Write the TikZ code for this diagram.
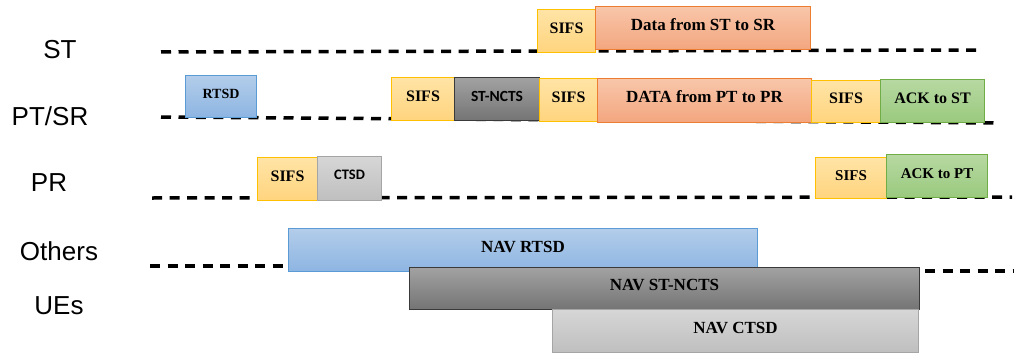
\documentclass[tikz,border=0pt]{standalone}
\usepackage{fontspec}
\setmainfont{Liberation Serif}
\newfontfamily\labfont{Liberation Sans}
\newfontfamily\calfont{Carlito}
\usetikzlibrary{shadings}
\definecolor{sifsT}{HTML}{FFE4A6}
\definecolor{sifsB}{HTML}{FFD47E}
\definecolor{sifsD}{HTML}{FFC000}
\definecolor{dataT}{HTML}{F8C6AA}
\definecolor{dataB}{HTML}{F3A67F}
\definecolor{dataD}{HTML}{ED7D31}
\definecolor{blueT}{HTML}{B3CDEA}
\definecolor{blueB}{HTML}{8DB5E2}
\definecolor{blueD}{HTML}{5B9BD5}
\definecolor{grayT}{HTML}{A2A2A2}
\definecolor{grayB}{HTML}{747474}
\definecolor{grayD}{HTML}{3A3A3A}
\definecolor{lgrayT}{HTML}{D6D6D6}
\definecolor{lgrayB}{HTML}{BFBFBF}
\definecolor{lgrayD}{HTML}{A5A5A5}
\definecolor{ackT}{HTML}{B7D8A2}
\definecolor{ackB}{HTML}{9ACA7E}
\definecolor{ackD}{HTML}{70AD47}
\tikzset{
  timeline/.style={line width=3.5pt, dash pattern=on 10pt off 7.5pt},
  rowlabel/.style={font=\labfont\fontsize{26}{30}\selectfont, inner sep=0pt},
  frame/.style={anchor=north west, inner sep=0pt, line width=1pt, text height=0.7em, text depth=0.25em, font=\bfseries\fontsize{16}{18}\selectfont},
  sifsbox/.style={frame, draw=sifsD, top color=sifsT, bottom color=sifsB},
  databox/.style={frame, draw=dataD, top color=dataT, bottom color=dataB, font=\bfseries\fontsize{17}{19}\selectfont},
  bluebox/.style={frame, draw=blueD, top color=blueT, bottom color=blueB},
  graybox/.style={frame, draw=grayD, top color=grayT, bottom color=grayB},
  lgraybox/.style={frame, draw=lgrayD, top color=lgrayT, bottom color=lgrayB},
  ackbox/.style={frame, draw=ackD, top color=ackT, bottom color=ackB},
}
\begin{document}
\begin{tikzpicture}[x=1pt,y=-1pt]
\useasboundingbox (0,0) rectangle (1014,353);
% row labels
\node[rowlabel] (lST) at (60,50) {ST};
\node[rowlabel] (lPT) at (50,116) {PT/SR};
\node[rowlabel] (lPR) at (49,183) {PR};
\node[rowlabel] (lOt) at (59,251) {Others};
\node[rowlabel] (lUE) at (59,306) {UEs};
% time lines
\coordinate (st1) at (161,52); \coordinate (st2) at (980,50);
\coordinate (pt1) at (161,117); \coordinate (pt2) at (998,123);
\coordinate (pr1) at (152,198); \coordinate (pr2) at (1012,197);
\coordinate (ot1) at (150,266); \coordinate (ot2) at (288,266);
\coordinate (ot3) at (925,271); \coordinate (ot4) at (1014,271);
\draw[timeline] (st1) -- (st2);
\draw[timeline] (pt1) -- (pt2);
\draw[timeline] (pr1) -- (pr2);
\draw[timeline] (ot1) -- (ot2);
\draw[timeline] (ot3) -- (ot4);
% ST row
\node[sifsbox, minimum width=58pt, minimum height=43pt] (sA) at (537,9) {SIFS};
\node[databox, minimum width=215pt, minimum height=43pt] (dST) at (595,6) {Data from ST to SR};
% PT/SR row
\node[bluebox, minimum width=71pt, minimum height=42pt, font=\bfseries\fontsize{14}{16}\selectfont] (rtsd) at (185,75) {RTSD};
\node[sifsbox, minimum width=63pt, minimum height=43pt] (sB) at (391,77) {SIFS};
\node[graybox, minimum width=85pt, minimum height=43pt, font=\calfont\bfseries\fontsize{15.5}{17}\selectfont] (nc) at (454,77) {ST-NCTS};
\node[sifsbox, minimum width=58pt, minimum height=43pt] (sC) at (539,78) {SIFS};
\node[databox, minimum width=214pt, minimum height=44pt] (dPT) at (597,78) {DATA from PT to PR};
\node[sifsbox, minimum width=69pt, minimum height=42pt] (sD) at (811,80) {SIFS};
\node[ackbox, minimum width=104pt, minimum height=43pt] (aST) at (880,79) {ACK to ST};
% PR row
\node[sifsbox, minimum width=60pt, minimum height=43pt] (sE) at (257,157) {SIFS};
\node[lgraybox, minimum width=64pt, minimum height=44pt, text depth=0.6em, font=\calfont\bfseries\fontsize{14.5}{16}\selectfont] (ctsd) at (317,156) {CTSD};
\node[sifsbox, minimum width=71pt, minimum height=41pt, font=\bfseries\fontsize{15}{17}\selectfont] (sF) at (815,157) {SIFS};
\node[ackbox, minimum width=101pt, minimum height=43pt, font=\bfseries\fontsize{15}{17}\selectfont] (aPT) at (886,154) {ACK to PT};
% NAV
\node[bluebox, minimum width=469pt, minimum height=43pt, font=\bfseries\fontsize{17}{19}\selectfont] (navR) at (288,228) {NAV RTSD};
\node[graybox, minimum width=510pt, minimum height=42pt, font=\bfseries\fontsize{17}{19}\selectfont] (navS) at (409,267) {NAV ST-NCTS};
\node[lgraybox, minimum width=366pt, minimum height=43pt, font=\bfseries\fontsize{17}{19}\selectfont] (navC) at (552,309) {NAV CTSD};
\end{tikzpicture}
\end{document}
